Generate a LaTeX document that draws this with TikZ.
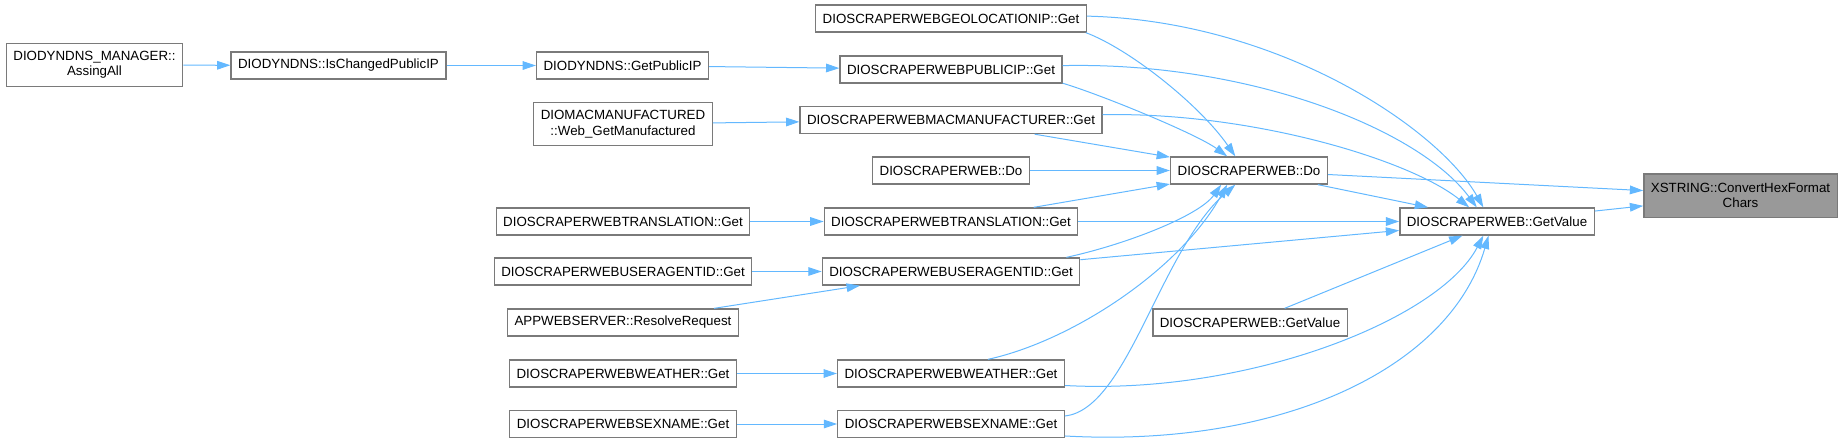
\documentclass[tikz,border=0pt]{standalone}
\usepackage{fontspec}
\setmainfont{Liberation Sans}
\usetikzlibrary{arrows.meta}
\definecolor{edgeblue}{HTML}{63B8FF}
\definecolor{boxgray}{HTML}{7A7A7A}
\definecolor{hitgray}{HTML}{999999}
\begin{document}
\begin{tikzpicture}[x=0.75pt,y=-0.75pt,
		fn/.style={draw=boxgray,line width=1pt,fill=white,font=\fontsize{10}{11.5}\selectfont,align=center,inner xsep=5.25pt,inner ysep=0pt,minimum height=20.25pt},
		fntwo/.style={fn,minimum height=32.5pt},
		call/.style={edgeblue,line width=0.75pt,-{Triangle[length=10pt,width=6.5pt]}}]
	\useasboundingbox (0,0) rectangle (1841,443);
	\node[fntwo] (assing) at (94.5,65) {DIODYNDNS\_MANAGER::\\AssingAll};
	\node[fntwo] (diomac) at (623,124) {DIOMACMANUFACTURED\\::Web\_GetManufactured};
	\node[fntwo,fill=hitgray] (xstring) at (1740.5,195.5) {XSTRING::ConvertHexFormat\\Chars};
	\foreach \n/\x/\y/\t in {ischanged/338.5/65.5/DIODYNDNS::IsChangedPublicIP,
			getpublicip/622.5/65.5/DIODYNDNS::GetPublicIP,
			translL/623/221.5/DIOSCRAPERWEBTRANSLATION::Get,
			userL/623/271.5/DIOSCRAPERWEBUSERAGENTID::Get,
			appweb/623/322.5/APPWEBSERVER::ResolveRequest,
			weatherL/623/373.5/DIOSCRAPERWEBWEATHER::Get,
			sexL/623/424/DIOSCRAPERWEBSEXNAME::Get,
			geoloc/951/18.5/DIOSCRAPERWEBGEOLOCATIONIP::Get,
			publicip/951/69.5/DIOSCRAPERWEBPUBLICIP::Get,
			macmanuf/951/120/DIOSCRAPERWEBMACMANUFACTURER::Get,
			doleft/951/170.5/DIOSCRAPERWEB::Do,
			translM/951/221.5/DIOSCRAPERWEBTRANSLATION::Get,
			userM/951/271.5/DIOSCRAPERWEBUSERAGENTID::Get,
			weatherM/951/373.5/DIOSCRAPERWEBWEATHER::Get,
			sexM/951/424/DIOSCRAPERWEBSEXNAME::Get,
			doC/1249/170.5/DIOSCRAPERWEB::Do,
			getvalueL/1250/322.5/DIOSCRAPERWEB::GetValue,
			getvalue/1497/221.5/DIOSCRAPERWEB::GetValue}{
		\node[fn] (\n) at (\x,\y) {\t};
	}
	\foreach \a/\b in {assing/ischanged,ischanged/getpublicip,getpublicip/publicip,diomac/macmanuf,
			translL/translM,userL/userM,appweb/userM,weatherL/weatherM,sexL/sexM,
			macmanuf/doC,doleft/doC,translM/doC,translM/getvalue,userM/getvalue,
			getvalueL/getvalue,doC/getvalue,doC/xstring,getvalue/xstring}{
		\draw[call] (\a) -- (\b);
	}
	\draw[call] (geoloc.-6) .. controls +(43,16) and +(-36,-52) .. (doC.134);
	\draw[call] (geoloc.1) .. controls +(193,4.5) and +(-44,-78) .. (getvalue.134);
	\draw[call] (publicip.-7) .. controls +(40,12) and +(-30,-22) .. (doC.147);
	\draw[call] (publicip.2) .. controls +(187,-4) and +(-58,-78) .. (getvalue.145);
	\draw[call] (macmanuf.2) .. controls +(147.5,-3) and +(-60,-48) .. (getvalue.153);
	\draw[call] (userM.7) .. controls +(60,-13) and +(-22,31) .. (doC.-153);
	\draw[call] (weatherM.21) .. controls +(83,-18) and +(-48,86) .. (doC.-147);
	\draw[call] (weatherM.-6) .. controls +(182,10) and +(-44,84) .. (getvalue.-134);
	\draw[call] (sexM.4) .. controls +(63,-7) and +(-76,66) .. (doC.-134);
	\draw[call] (sexM.-6) .. controls +(214,12) and +(-39,134) .. (getvalue.-121);
\end{tikzpicture}
\end{document}
